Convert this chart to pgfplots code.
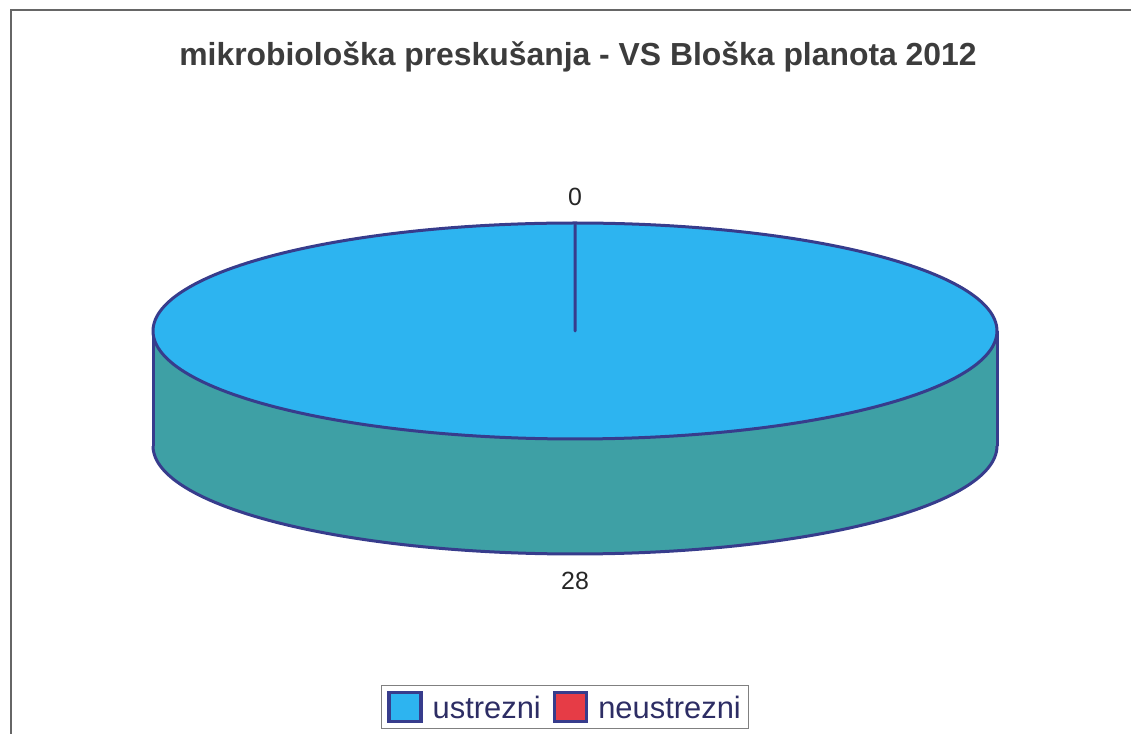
\documentclass[border=0pt]{standalone}
\usepackage{fontspec}
\setmainfont{Liberation Sans}
\usepackage{pgfplots}
\usepackage{pgfplotstable}
\pgfplotsset{compat=1.18}
\usepgfplotslibrary{fillbetween}
\definecolor{topc}{RGB}{45,180,240}
\definecolor{sidec}{RGB}{62,160,165}
\definecolor{edgec}{RGB}{55,60,140}
\definecolor{redc}{RGB}{230,60,70}
\definecolor{titlec}{RGB}{60,60,60}
\definecolor{legc}{RGB}{45,45,100}
\pgfplotstableread{
label value
ustrezni 28
neustrezni 0
}\piedata
\pgfplotstablegetelem{0}{value}\of\piedata \let\vA\pgfplotsretval
\pgfplotstablegetelem{1}{value}\of\piedata \let\vB\pgfplotsretval
\pgfmathsetmacro\angA{360*\vA/(\vA+\vB)}
\pgfmathsetmacro\startA{90-\angA}
\begin{document}
\begin{tikzpicture}
\begin{axis}[width=1131bp,height=734bp,scale only axis,
  xmin=0,xmax=1131,ymin=0,ymax=734, hide axis, clip=true,
  legend columns=2,
  legend style={at={(axis cs:565,27)}, anchor=center, draw=gray, line width=1bp,
    font=\fontsize{31}{35}\selectfont, text=legc, inner xsep=6bp, inner ysep=5bp,
    /tikz/every even column/.append style={column sep=10bp},
    /tikz/every odd column/.append style={}},
  legend cell align=left,
  ]
% frame
\addplot[forget plot, draw=gray!80!black, line width=1.2bp] coordinates {(1140,724)(11,724)(11,-10)};
% side
\addplot[forget plot, name path=topfront, draw=none, domain=180:360, samples=121] ({575+422*cos(x)},{403+108*sin(x)});
\addplot[forget plot, name path=botfront, draw=none, domain=180:360, samples=121] ({575+422*cos(x)},{288+108*sin(x)});
\addplot[forget plot, sidec] fill between[of=topfront and botfront];
\addplot[forget plot, edgec, line width=3bp, domain=180:360, samples=121] ({575+422*cos(x)},{288+108*sin(x)});
\addplot[forget plot, edgec, line width=3bp] coordinates {(153,403)(153,288)};
\addplot[forget plot, edgec, line width=3bp] coordinates {(997,403)(997,288)};
% top slice
\addplot[forget plot, fill=topc, draw=edgec, line width=3bp, line join=round, domain=\startA:90, samples=241] ({575+422*cos(x)},{403+108*sin(x)}) -- (axis cs:575,403) -- cycle;
% data labels
\node[font=\fontsize{25}{30}\selectfont, text=black!85] at (axis cs:575,537) {\vB};
\node[font=\fontsize{25}{30}\selectfont, text=black!85] at (axis cs:575,153) {\vA};
% title
\node[font=\bfseries\fontsize{32}{38}\selectfont, text=titlec] at (axis cs:578,677) {mikrobiološka preskušanja - VS Bloška planota 2012};
% legend
\addlegendimage{legend image code/.code={\draw[fill=topc,draw=edgec,line width=3.5bp] (0bp,-13bp) rectangle (32bp,16bp);}}
\addlegendentry{\hspace{8bp}ustrezni}
\addlegendimage{legend image code/.code={\draw[fill=redc,draw=edgec,line width=3.5bp] (0bp,-13bp) rectangle (32bp,16bp);}}
\addlegendentry{\hspace{8bp}neustrezni}
\end{axis}
\end{tikzpicture}
\end{document}
